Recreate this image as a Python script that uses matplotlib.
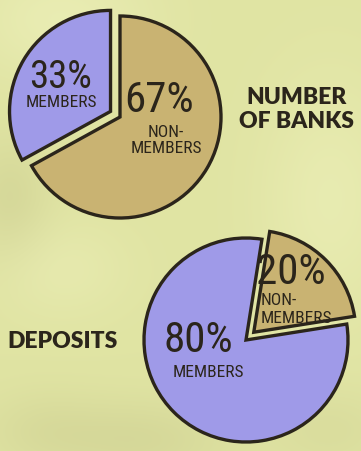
import numpy as np
import matplotlib
matplotlib.use("Agg")
import matplotlib.pyplot as plt
from matplotlib import font_manager
from matplotlib.colors import to_rgb

# share of member vs non-member banks
bank_labels = ["MEMBERS", "NON-\nMEMBERS"]
bank_share = [33, 67]
# share of deposits
deposit_labels = ["NON-\nMEMBERS", "MEMBERS"]
deposit_share = [20, 80]

W, H = 361, 452
PURPLE = "#9f9ae8"
TAN = "#c9b372"
INK = "#2b251b"


def py(y):
    # pixel row (from top) -> data y
    return H - y


def narrow_font():
    # look for an upright, regular condensed sans face, else plain DejaVu
    fonts = [f for f in font_manager.fontManager.ttflist
             if f.style == "normal" and f.weight in (400, "normal", "regular")]
    for name in ("Liberation Sans Narrow", "Roboto Condensed", "Open Sans Condensed"):
        for f in fonts:
            if f.name == name:
                return font_manager.FontProperties(fname=f.fname)
    for f in fonts:
        if f.stretch == "condensed" and f.name in ("Roboto", "Open Sans", "DejaVu Sans", "Noto Sans"):
            return font_manager.FontProperties(fname=f.fname)
    return font_manager.FontProperties(family="DejaVu Sans")


fig = plt.figure(figsize=(W / 100, H / 100), dpi=100)
ax = fig.add_axes([0, 0, 1, 1])

# mottled yellow-green paper behind the pies
yy, xx = np.mgrid[0:H, 0:W]
base = np.array(to_rgb("#e0e4a3"))
light = np.array(to_rgb("#eaedb4")) - base
dark = np.array(to_rgb("#cccd90")) - base


def blob(cx, cy, sx, sy):
    return np.exp(-(((xx - cx) / sx) ** 2 + ((yy - cy) / sy) ** 2))


w_light = 0.9 * blob(60, 20, 90, 60) + 0.8 * blob(330, 200, 70, 120) + 0.6 * blob(60, 270, 70, 50)
w_dark = 0.5 * blob(10, 200, 40, 60) + 0.5 * blob(140, 440, 90, 40) + 0.3 * blob(40, 430, 60, 40) \
    + 0.3 * blob(330, 430, 60, 40)
bg = base + w_light[..., None] * light + w_dark[..., None] * dark
ax.imshow(np.clip(bg, 0, 1), extent=(0, W, 0, H), origin="upper", zorder=0)

wedge_kw = dict(edgecolor=INK, linewidth=2.4, joinstyle="miter")

# number of banks (explode is in data units, i.e. pixels here)
ax.pie(bank_share, colors=[PURPLE, TAN], startangle=90, counterclock=True,
       explode=[11, 0], center=(120, py(118)), radius=101,
       wedgeprops=wedge_kw, frame=True)

# deposits
ax.pie(deposit_share, colors=[TAN, PURPLE], startangle=9, counterclock=True,
       explode=[11, 0], center=(246, py(341)), radius=102,
       wedgeprops=wedge_kw, frame=True)

ax.set_xlim(0, W)
ax.set_ylim(0, H)
ax.set_aspect("equal")
ax.axis("off")

nf = narrow_font()
head = dict(family="Lato", fontweight="heavy", fontsize=16.5, color=INK, va="baseline")


def pct(x, y, v, size=31):
    t = ax.text(x, py(y), f"{v}%", fontproperties=nf, color=INK, ha="center", va="baseline")
    t.set_fontsize(size)


def lab(x, y, s, ha="center", step=16):
    # one text per line so each line sits on its own baseline
    for i, line in enumerate(s.split("\n")):
        t = ax.text(x, py(y + i * step), line, fontproperties=nf, color=INK, ha=ha,
                    va="baseline")
        t.set_fontsize(12.5)


pct(61, 88, bank_share[0], 28)
lab(61, 107, bank_labels[0])
pct(159, 112, bank_share[1])
lab(166, 137, bank_labels[1])
ax.text(297, py(104), "NUMBER", ha="center", **head)
ax.text(297, py(128), "OF BANKS", ha="center", **head)

pct(291, 284, deposit_share[0], 31)
lab(261, 305, deposit_labels[0], ha="left", step=18)
pct(198, 352, deposit_share[1])
lab(208, 377, deposit_labels[1])
ax.text(63, py(348), "DEPOSITS", ha="center", **head)

fig.savefig("out.png", dpi=100)
